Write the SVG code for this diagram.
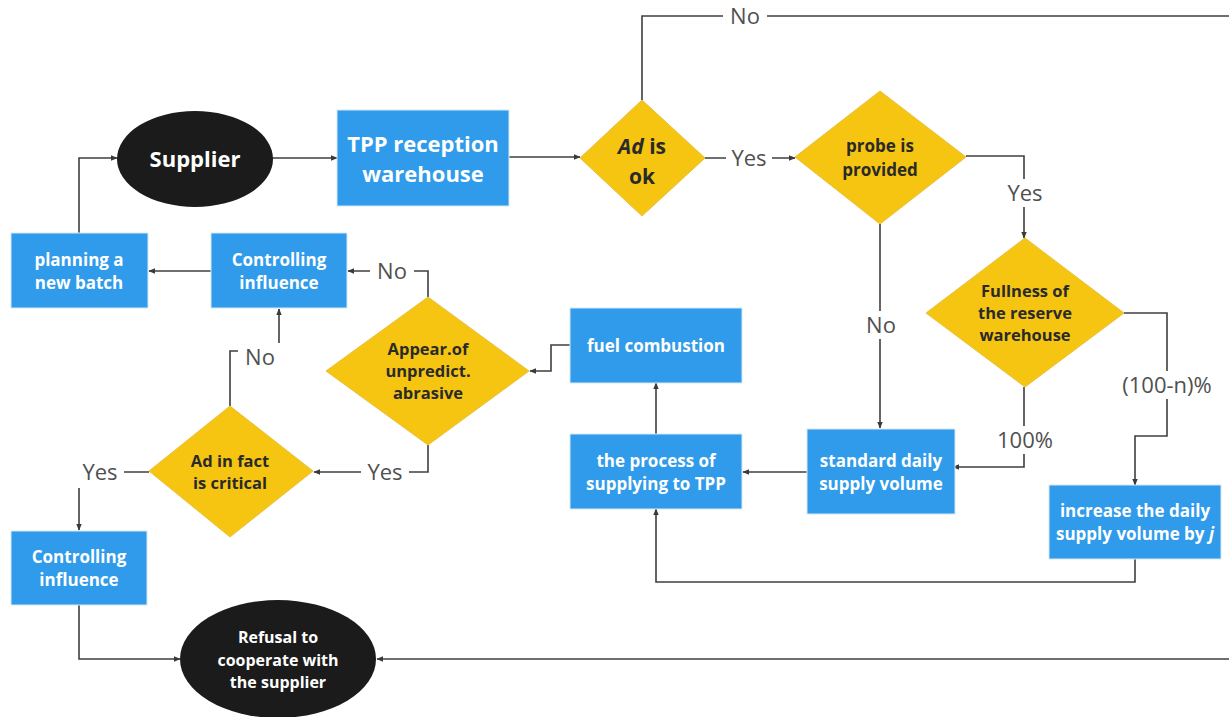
<svg xmlns="http://www.w3.org/2000/svg" width="1229" height="717" viewBox="0 0 1229 717">
<defs>
<marker id="arr" viewBox="0 0 10 10" refX="9" refY="5" markerWidth="7" markerHeight="7" markerUnits="userSpaceOnUse" orient="auto"><path d="M0,1 L10,5 L0,9 z" fill="#3a3a3a"/></marker>
<style>
.c{fill:none;stroke:#3f3f3f;stroke-width:1.6;marker-end:url(#arr)}
.n{fill:none;stroke:#3f3f3f;stroke-width:1.6}
.box{fill:#2f9bea;stroke:#d6e8f6;stroke-width:1}
.dia{fill:#f6c512;stroke:#e8c040;stroke-width:1}
.ell{fill:#1b1b1b}
.bt{font-family:"Open Sans","Noto Sans",sans-serif;font-weight:bold;fill:#ffffff;text-anchor:middle}
.dt{font-family:"Open Sans","Noto Sans",sans-serif;font-weight:bold;fill:#2a2a2a;text-anchor:middle}
.lb{font-family:"Open Sans","Noto Sans",sans-serif;fill:#505050;font-size:22px;text-anchor:middle}
.lbg{fill:#ffffff}
</style>
</defs>
<rect width="1229" height="717" fill="#ffffff"/>

<g id="connectors">
<path class="c" d="M272,158 L337,158"/>
<path class="c" d="M509,157 L580,157"/>
<path class="n" d="M642,100 L642,16 L1229,16"/>
<path class="c" d="M705,158 L795,158"/>
<path class="c" d="M966,156 L1024,156 L1024,238"/>
<path class="c" d="M880,224 L880,428"/>
<path class="c" d="M1124,313 L1167,313 L1167,436 L1135,436 L1135,485"/>
<path class="c" d="M1024,387 L1024,467 L953,467"/>
<path class="c" d="M1135,559 L1135,582 L656,582 L656,509"/>
<path class="c" d="M807,472 L743,472"/>
<path class="c" d="M656,434 L656,383"/>
<path class="c" d="M570,345 L551,345 L551,371 L530,371"/>
<path class="c" d="M428,297 L428,271 L348,271"/>
<path class="c" d="M428,445 L428,472 L314,472"/>
<path class="c" d="M211,271 L149,271"/>
<path class="c" d="M79,233 L79,158 L117,158"/>
<path class="c" d="M230,406 L230,351 L279,351 L279,309"/>
<path class="c" d="M149,472 L79,472 L79,530"/>
<path class="c" d="M79,605 L79,659 L180,659"/>
<path class="c" d="M1229,659 L377,659"/>

<rect class="lbg" x="723" y="2" width="44" height="28"/>
<text class="lb" x="745" y="24">No</text>
<rect class="lbg" x="726" y="144" width="46" height="28"/>
<text class="lb" x="749" y="166">Yes</text>
<rect class="lbg" x="1002" y="179" width="46" height="28"/>
<text class="lb" x="1025" y="201">Yes</text>
<rect class="lbg" x="859" y="311" width="44" height="28"/>
<text class="lb" x="881" y="333">No</text>
<rect class="lbg" x="1118" y="371" width="98" height="28"/>
<text class="lb" x="1167" y="393">(100-n)%</text>
<rect class="lbg" x="994" y="426" width="62" height="28"/>
<text class="lb" x="1025" y="448">100%</text>
<rect class="lbg" x="370" y="257" width="44" height="28"/>
<text class="lb" x="392" y="279">No</text>
<rect class="lbg" x="361" y="458" width="48" height="28"/>
<text class="lb" x="385" y="480">Yes</text>
<rect class="lbg" x="238" y="343" width="44" height="28"/>
<text class="lb" x="260" y="365">No</text>
<rect class="lbg" x="70" y="458" width="54" height="30"/>
<text class="lb" x="100" y="480">Yes</text>
</g>

<g id="supplier">
<ellipse class="ell" cx="195" cy="159" rx="78" ry="48"/>
<text class="bt" x="195" y="167" font-size="22">Supplier</text>
</g>

<g id="tpp-reception">
<rect class="box" x="337" y="110" width="172" height="96"/>
<text class="bt" x="423" y="152" font-size="22">TPP reception</text>
<text class="bt" x="423" y="182" font-size="22">warehouse</text>
</g>

<g id="ad-ok">
<polygon class="dia" points="642,100 705,158 642,216 580,158"/>
<text class="dt" x="642" y="154" font-size="21"><tspan font-style="italic">Ad</tspan> is</text>
<text class="dt" x="642" y="184" font-size="21">ok</text>
</g>

<g id="probe">
<polygon class="dia" points="880,91 966,157 880,224 795,157"/>
<text class="dt" x="880" y="152" font-size="17">probe is</text>
<text class="dt" x="880" y="176" font-size="17">provided</text>
</g>

<g id="fullness">
<polygon class="dia" points="1025,238 1124,313 1025,387 926,313"/>
<text class="dt" x="1025" y="297" font-size="16.5">Fullness of</text>
<text class="dt" x="1025" y="319" font-size="16.5">the reserve</text>
<text class="dt" x="1025" y="341" font-size="16.5">warehouse</text>
</g>

<g id="standard">
<rect class="box" x="807" y="429" width="148" height="85"/>
<text class="bt" x="881" y="467" font-size="17">standard daily</text>
<text class="bt" x="881" y="490" font-size="17">supply volume</text>
</g>

<g id="increase">
<rect class="box" x="1049" y="485" width="172" height="74"/>
<text class="bt" x="1135" y="517" font-size="17">increase the daily</text>
<text class="bt" x="1135" y="540" font-size="17">supply volume by <tspan font-style="italic">j</tspan></text>
</g>

<g id="process">
<rect class="box" x="570" y="434" width="172" height="75"/>
<text class="bt" x="656" y="467" font-size="17">the process of</text>
<text class="bt" x="656" y="490" font-size="17">supplying to TPP</text>
</g>

<g id="fuel">
<rect class="box" x="570" y="308" width="172" height="75"/>
<text class="bt" x="656" y="352" font-size="17">fuel combustion</text>
</g>

<g id="appear">
<polygon class="dia" points="428,297 529,371 428,445 326,371"/>
<text class="dt" x="428" y="355" font-size="16.5">Appear.of</text>
<text class="dt" x="428" y="377" font-size="16.5">unpredict.</text>
<text class="dt" x="428" y="399" font-size="16.5">abrasive</text>
</g>

<g id="controlling-1">
<rect class="box" x="211" y="233" width="136" height="75"/>
<text class="bt" x="279" y="266" font-size="17">Controlling</text>
<text class="bt" x="279" y="289" font-size="17">influence</text>
</g>

<g id="planning">
<rect class="box" x="11" y="233" width="137" height="75"/>
<text class="bt" x="79" y="266" font-size="17">planning a</text>
<text class="bt" x="79" y="289" font-size="17">new batch</text>
</g>

<g id="ad-critical">
<polygon class="dia" points="230,406 313,471 230,537 149,471"/>
<text class="dt" x="230" y="467" font-size="16.5">Ad in fact</text>
<text class="dt" x="230" y="489" font-size="16.5">is critical</text>
</g>

<g id="controlling-2">
<rect class="box" x="11" y="531" width="136" height="74"/>
<text class="bt" x="79" y="563" font-size="17">Controlling</text>
<text class="bt" x="79" y="586" font-size="17">influence</text>
</g>

<g id="refusal">
<ellipse class="ell" cx="278" cy="659" rx="98" ry="59"/>
<text class="bt" x="278" y="643" font-size="16">Refusal to</text>
<text class="bt" x="278" y="666" font-size="16">cooperate with</text>
<text class="bt" x="278" y="688" font-size="16">the supplier</text>
</g>
</svg>
